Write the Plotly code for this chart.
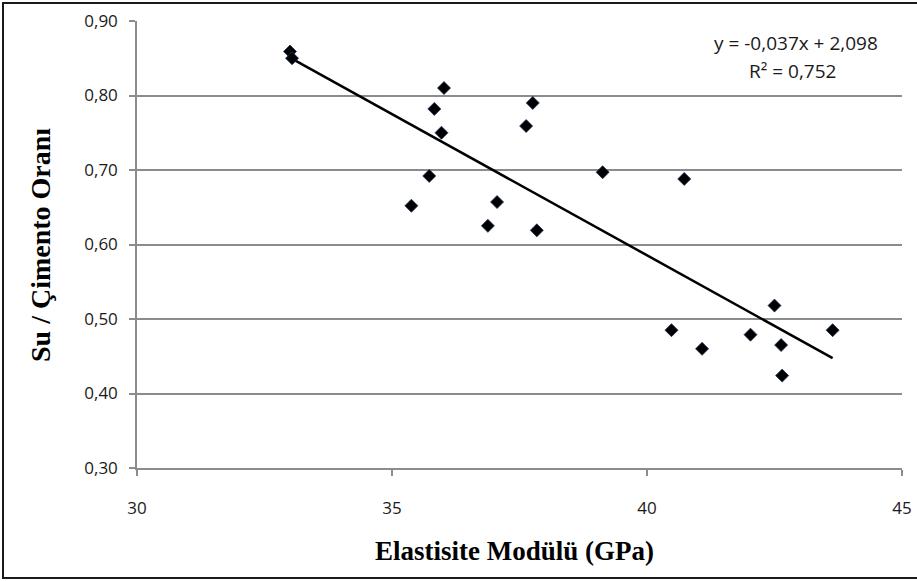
import numpy as np
import plotly.graph_objects as go

# Elastic modulus (GPa) vs water/cement ratio
modulus_gpa = [33.00, 33.04, 36.02, 35.83, 35.97, 35.73, 35.38, 37.06, 36.88, 37.63,
               37.76, 39.13, 40.73, 37.84, 40.48, 41.08, 42.03, 42.50, 42.63, 42.65, 43.64]
wc_ratio = [0.859, 0.850, 0.810, 0.782, 0.750, 0.692, 0.652, 0.657, 0.625, 0.759,
            0.790, 0.697, 0.688, 0.619, 0.485, 0.460, 0.479, 0.518, 0.465, 0.424, 0.485]

x_ticks = [30, 35, 40, 45]
y_ticks = [0.30, 0.40, 0.50, 0.60, 0.70, 0.80, 0.90]

equation_text = "y = -0,037x + 2,098"
r2_text = "R² = 0,752"
x_title = "Elastisite Modülü (GPa)"
y_title = "Su / Çimento Oranı"

# least-squares trendline over the data span
slope, intercept = np.polyfit(modulus_gpa, wc_ratio, 1)
trend_x = [min(modulus_gpa), max(modulus_gpa)]
trend_y = [slope * v + intercept for v in trend_x]

W, H = 917, 581
L, R, T, B = 137, 15, 21, 113
pw, ph = W - L - R, H - T - B


def px_to_paper_x(px):
    return (px - L) / pw


def px_to_paper_y(py):
    return (H - B - py) / ph


fig = go.Figure()
fig.add_trace(go.Scatter(
    x=trend_x, y=trend_y, mode="lines",
    line=dict(color="#000000", width=2.5),
    hoverinfo="skip", showlegend=False,
))
fig.add_trace(go.Scatter(
    x=modulus_gpa, y=wc_ratio, mode="markers",
    marker=dict(symbol="diamond", size=10, color="#000000",
                line=dict(color="#1c2f5a", width=0.8)),
    showlegend=False,
))

tick_font = dict(family="Open Sans", size=17, color="#1a1a1a")
grid_col = "#8c8c8c"

fig.update_layout(
    width=W, height=H,
    margin=dict(l=L, r=R, t=T, b=B, autoexpand=False),
    paper_bgcolor="white", plot_bgcolor="white",
    separators=", ",
    xaxis=dict(
        range=[30, 45], tickvals=x_ticks, ticktext=[str(v) for v in x_ticks],
        showgrid=False, zeroline=False, automargin=False,
        showline=True, linecolor=grid_col, linewidth=1.5,
        ticks="outside", ticklen=6, tickcolor=grid_col, tickwidth=1.5,
        tickfont=tick_font, ticklabelstandoff=18,
    ),
    yaxis=dict(
        range=[0.3, 0.9], tickvals=y_ticks, tickformat=".2f",
        showgrid=True, gridcolor=grid_col, gridwidth=1.5, zeroline=False,
        automargin=False,
        showline=True, linecolor=grid_col, linewidth=1.5,
        ticks="outside", ticklen=6, tickcolor=grid_col, tickwidth=1.5,
        tickfont=tick_font, ticklabelstandoff=8,
    ),
    annotations=[
        dict(text=equation_text, xref="paper", yref="paper",
             x=px_to_paper_x(796), y=px_to_paper_y(43),
             xanchor="center", yanchor="middle", showarrow=False,
             font=dict(family="Open Sans", size=19, color="#1a1a1a")),
        dict(text=r2_text, xref="paper", yref="paper",
             x=px_to_paper_x(792), y=px_to_paper_y(71),
             xanchor="center", yanchor="middle", showarrow=False,
             font=dict(family="Open Sans", size=19, color="#1a1a1a")),
        dict(text="<b>" + x_title + "</b>", xref="paper", yref="paper",
             x=px_to_paper_x(514), y=px_to_paper_y(551),
             xanchor="center", yanchor="middle", showarrow=False,
             font=dict(family="Liberation Serif", size=27, color="#000000")),
        dict(text="<b>" + y_title + "</b>", xref="paper", yref="paper",
             x=px_to_paper_x(40), y=px_to_paper_y(245), textangle=-90,
             xanchor="center", yanchor="middle", showarrow=False,
             font=dict(family="Liberation Serif", size=28, color="#000000")),
    ],
    shapes=[
        dict(type="rect", xref="paper", yref="paper",
             x0=px_to_paper_x(3), x1=px_to_paper_x(920),
             y0=px_to_paper_y(578), y1=px_to_paper_y(3),
             line=dict(color="#1a1a1a", width=2), layer="below"),
    ],
)

fig.write_html("out.html")
